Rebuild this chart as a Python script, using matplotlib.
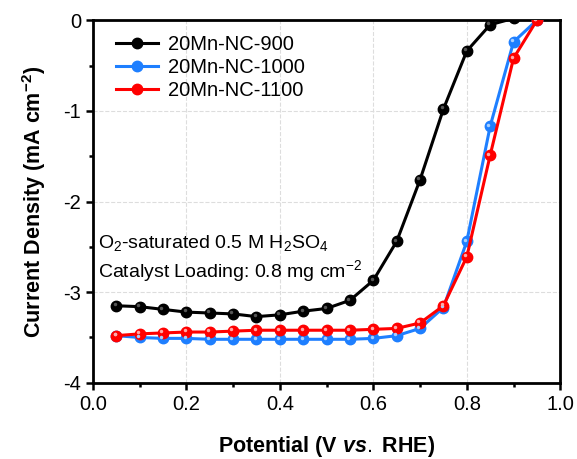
import numpy as np
import matplotlib
matplotlib.use('Agg')
import matplotlib.pyplot as plt
from matplotlib.transforms import ScaledTranslation

plt.rcParams['font.family'] = ['Liberation Sans', 'DejaVu Sans']
plt.rcParams['axes.unicode_minus'] = False
plt.rcParams['mathtext.fontset'] = 'custom'
plt.rcParams['mathtext.rm'] = 'Liberation Sans'
plt.rcParams['mathtext.bf'] = 'Liberation Sans:bold'
plt.rcParams['mathtext.it'] = 'Liberation Sans:italic:bold'

potential = [0.05, 0.10, 0.15, 0.20, 0.25, 0.30, 0.35, 0.40, 0.45, 0.50,
             0.55, 0.60, 0.65, 0.70, 0.75, 0.80, 0.85, 0.90, 0.95]
nc900 = [-3.15, -3.16, -3.19, -3.22, -3.23, -3.24, -3.27, -3.25, -3.21, -3.18,
         -3.09, -2.87, -2.44, -1.76, -0.98, -0.34, -0.05, 0.02, 0.03]
nc1000 = [-3.48, -3.50, -3.51, -3.51, -3.52, -3.52, -3.52, -3.52, -3.52, -3.52,
          -3.52, -3.51, -3.48, -3.40, -3.17, -2.44, -1.17, -0.24, 0.00]
nc1100 = [-3.48, -3.46, -3.45, -3.44, -3.44, -3.43, -3.42, -3.42, -3.42, -3.42,
          -3.42, -3.41, -3.40, -3.34, -3.15, -2.61, -1.49, -0.42, 0.00]

series = [("20Mn-NC-900", nc900, "black", "#555555"),
          ("20Mn-NC-1000", nc1000, "#1e7fff", "#a8d0ff"),
          ("20Mn-NC-1100", nc1100, "#ff0000", "#ffaaaa")]

fig = plt.figure(figsize=(5.77, 4.59), dpi=100)
ax = fig.add_axes([0.161, 0.166, 0.81, 0.79])

shift = ScaledTranslation(-1.2 / 72, 1.2 / 72, fig.dpi_scale_trans)
for name, vals, col, hi in series:
    ax.plot(potential, vals, '-o', color=col, lw=2.2, ms=7.5,
            mec=col, mfc=col, label=name, zorder=3)
    ax.plot(potential, vals, 'o', color=hi, ms=2.5, mec='none',
            transform=ax.transData + shift, zorder=4)

ax.set_xlim(0, 1.0)
ax.set_ylim(-4, 0)
ax.set_xticks(np.arange(0, 1.01, 0.2))
ax.set_xticks(np.arange(0, 1.01, 0.1), minor=True)
ax.set_yticks([-4, -3, -2, -1, 0])
ax.set_yticks(np.arange(-4, 0.01, 0.5), minor=True)
ax.set_xticklabels(['0.0', '0.2', '0.4', '0.6', '0.8', '1.0'])
ax.set_yticklabels(['-4', '-3', '-2', '-1', '0'])
ax.tick_params(which='major', direction='out', length=5, width=1.8, labelsize=14.5)
ax.tick_params(which='minor', direction='out', length=3, width=1.8)
for s in ax.spines.values():
    s.set_linewidth(2)
ax.grid(True, which='major', ls='--', color='#dddddd', lw=0.8)
ax.set_axisbelow(True)

ax.set_xlabel(r'Potential (V $\it{vs.}$ RHE)', fontsize=15.5, fontweight='bold', labelpad=15)
ax.set_ylabel(r'Current Density (mA cm$^{\mathbf{-2}}$)', fontsize=15.5, fontweight='bold', labelpad=11)

ax.text(0.01, -2.46, r'O$_2$-saturated 0.5 M H$_2$SO$_4$', fontsize=14, va='center')
ax.text(0.01, -2.77, r'Catalyst Loading: 0.8 mg cm$^{-2}$', fontsize=14, va='center')

leg = ax.legend(loc='upper left', bbox_to_anchor=(0.01, 1.01), frameon=False,
                fontsize=14.5, handlelength=2.1, handletextpad=0.5, labelspacing=0.2)
fig.savefig('out.png', dpi=100)
